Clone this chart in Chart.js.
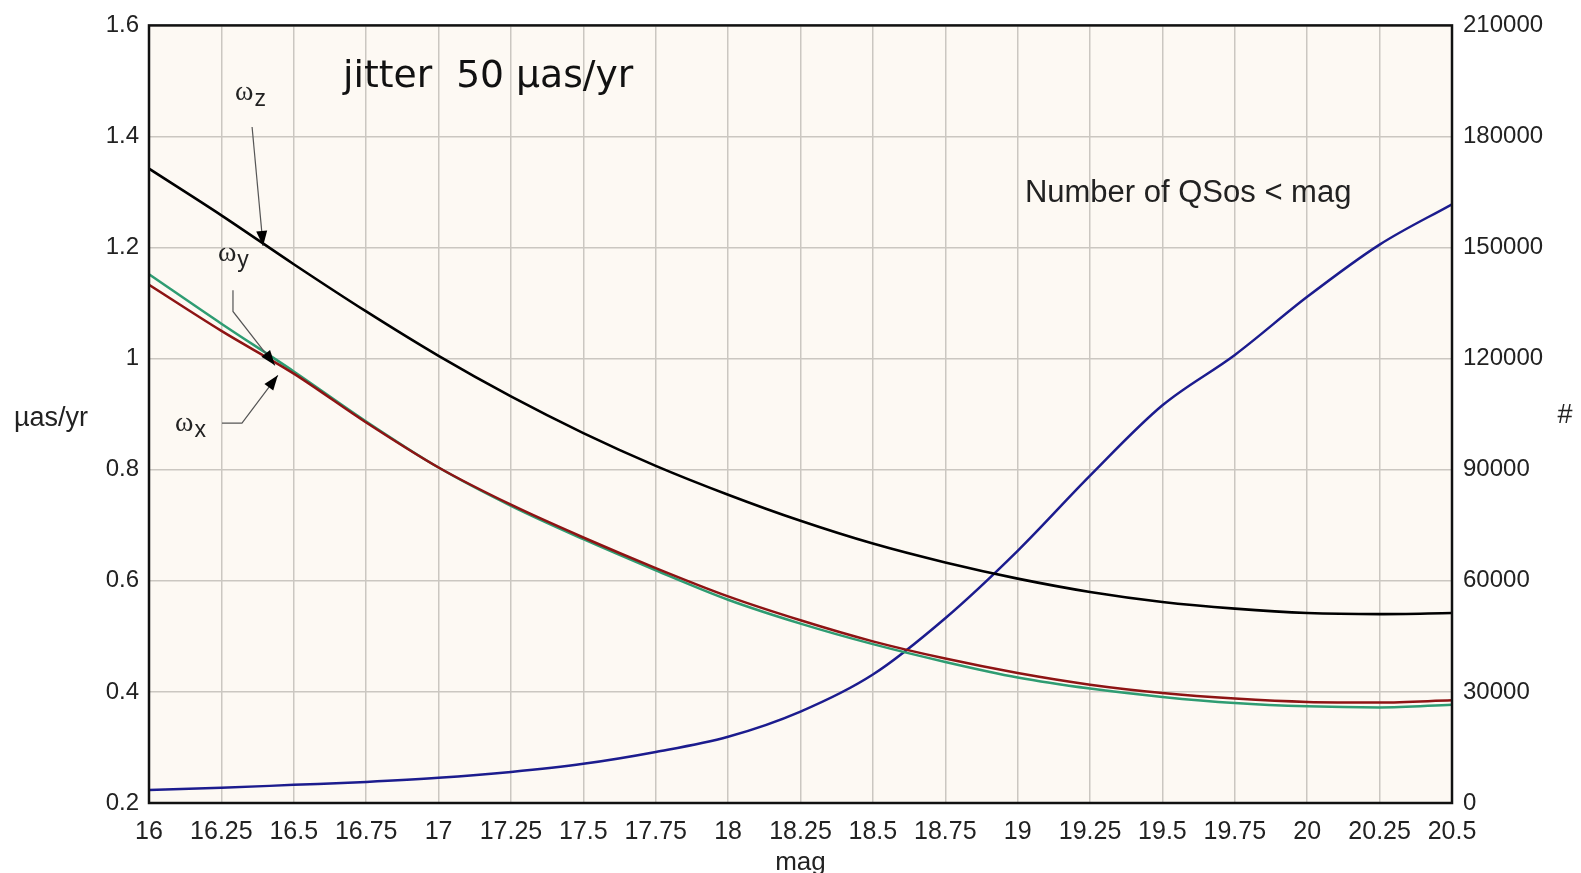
<!DOCTYPE html>
<html>
<head>
<meta charset="utf-8">
<script src="https://cdn.jsdelivr.net/npm/chart.js@4/dist/chart.umd.min.js"></script>
<style>
html,body{margin:0;padding:0;background:#fff;}
#wrap{width:1581px;height:873px;position:relative;}
</style>
</head>
<body>
<div id="wrap"><canvas id="c" width="1581" height="873"></canvas></div>
<script>
const mags = [16,16.25,16.5,16.75,17,17.25,17.5,17.75,18,18.25,18.5,18.75,19,19.25,19.5,19.75,20,20.25,20.5];
const omegaZ = [1.342,1.258,1.170,1.085,1.005,0.932,0.866,0.807,0.755,0.708,0.667,0.633,0.604,0.580,0.562,0.550,0.542,0.540,0.542];
const omegaY = [1.152,1.063,0.977,0.887,0.804,0.735,0.675,0.619,0.566,0.523,0.486,0.454,0.426,0.406,0.391,0.380,0.374,0.372,0.377];
const omegaX = [1.133,1.050,0.973,0.885,0.804,0.737,0.678,0.623,0.572,0.529,0.491,0.460,0.434,0.413,0.398,0.388,0.382,0.381,0.385];
const qsoCount = [3500,4100,4900,5700,6800,8400,10600,13800,17900,24700,34700,49900,68100,88400,107400,121000,136700,150800,161700];
const leftTicks = [0.2,0.4,0.6,0.8,1,1.2,1.4,1.6];
const rightTicks = [0,30000,60000,90000,120000,150000,180000,210000];

const pts = arr => mags.map((m,i)=>({x:m,y:arr[i]}));

const annotations = {
  id:'annot',
  beforeDraw(chart){
    const {ctx, chartArea:a} = chart;
    ctx.save();
    ctx.fillStyle = '#FDF9F3';
    ctx.fillRect(a.left, a.top, a.right-a.left, a.bottom-a.top);
    ctx.restore();
  },
  afterDraw(chart){
    const {ctx, chartArea:a, scales} = chart;
    const X = v=>scales.x.getPixelForValue(v), Y = v=>scales.y.getPixelForValue(v);
    ctx.save();
    // frame
    ctx.strokeStyle = '#111'; ctx.lineWidth = 2.5;
    ctx.strokeRect(a.left, a.top, a.right-a.left, a.bottom-a.top);
    // axis titles
    ctx.fillStyle = '#222';
    ctx.textBaseline = 'middle';
    ctx.font = '27px "Liberation Sans", Arial, sans-serif';
    ctx.textAlign = 'left';
    ctx.fillText('µas/yr', 14, (a.top+a.bottom)/2+4);
    ctx.textAlign = 'center';
    ctx.fillText('#', 1565, (a.top+a.bottom)/2+1);
    ctx.font = '26px "Liberation Sans", Arial, sans-serif';
    ctx.fillText('mag', (a.left+a.right)/2, 863);
    // in-plot texts
    ctx.textAlign = 'left';
    ctx.textBaseline = 'alphabetic';
    ctx.fillStyle = '#111';
    let base = 30;
    ctx.font = base+'px "DejaVu Sans", sans-serif';
    const jt = 'jitter  50 µas/yr';
    const w = ctx.measureText(jt).width;
    ctx.font = (base*290/w).toFixed(1)+'px "DejaVu Sans", sans-serif';
    ctx.fillText(jt, X(16.67), Y(1.489));
    ctx.textBaseline = 'middle';
    ctx.fillStyle = '#222';
    ctx.font = '31px "Liberation Sans", Arial, sans-serif';
    ctx.fillText('Number of QSos < mag', X(19.025), Y(1.297));
    // omega labels (left-anchored)
    const omega = (mx, vy, sub) => {
      ctx.fillStyle = '#222';
      ctx.textBaseline = 'middle';
      ctx.textAlign = 'left';
      ctx.font = '28px "Liberation Serif", "DejaVu Serif", serif';
      const x0 = X(mx), y0 = Y(vy);
      ctx.fillText('ω', x0, y0-2);
      const ww = ctx.measureText('ω').width;
      ctx.font = '23px "Liberation Sans", Arial, sans-serif';
      ctx.fillText(sub, x0+ww+1, y0+5);
    };
    omega(16.297, 1.476, 'z');
    omega(16.238, 1.185, 'y');
    omega(16.09, 0.880, 'x');
    // arrows
    const arrow = (path) => {
      const p = path.map(q=>[X(q[0]),Y(q[1])]);
      ctx.strokeStyle = '#555'; ctx.lineWidth = 1.2;
      ctx.beginPath();
      ctx.moveTo(p[0][0],p[0][1]);
      for (let i=1;i<p.length;i++) ctx.lineTo(p[i][0],p[i][1]);
      ctx.stroke();
      const t = p[p.length-1], s = p[p.length-2];
      const ang = Math.atan2(t[1]-s[1], t[0]-s[0]);
      const L = 15, H = 5.5;
      ctx.fillStyle = '#000';
      ctx.beginPath();
      ctx.moveTo(t[0],t[1]);
      ctx.lineTo(t[0]-L*Math.cos(ang)+H*Math.sin(ang), t[1]-L*Math.sin(ang)-H*Math.cos(ang));
      ctx.lineTo(t[0]-L*Math.cos(ang)-H*Math.sin(ang), t[1]-L*Math.sin(ang)+H*Math.cos(ang));
      ctx.closePath(); ctx.fill();
    };
    arrow([[16.356,1.417],[16.394,1.203]]);
    arrow([[16.29,1.123],[16.29,1.085],[16.435,0.988]]);
    arrow([[16.252,0.884],[16.321,0.884],[16.445,0.970]]);
    ctx.restore();
  }
};

const gridColor = '#CBC7C1';
const tickFont = (s)=>({family:'"Liberation Sans", Arial, sans-serif', size:s});

new Chart(document.getElementById('c'), {
  type:'line',
  data:{
    datasets:[
      {label:'ωz', data:pts(omegaZ), borderColor:'#000000', borderWidth:2.6, yAxisID:'y'},
      {label:'ωx', data:pts(omegaX), borderColor:'#8E1414', borderWidth:2.5, yAxisID:'y'},
      {label:'ωy', data:pts(omegaY), borderColor:'#2E9C72', borderWidth:2.5, yAxisID:'y'},
      {label:'QSOs', data:pts(qsoCount), borderColor:'#1C1C8E', borderWidth:2.5, yAxisID:'y1'}
    ]
  },
  options:{
    responsive:false,
    animation:false,
    events:[],
    layout:{padding:{top:17,bottom:0,left:0,right:0}, autoPadding:false},
    elements:{point:{radius:0}, line:{cubicInterpolationMode:'monotone', fill:false}},
    plugins:{legend:{display:false}, tooltip:{enabled:false}},
    scales:{
      x:{type:'linear', min:16, max:20.5,
        afterBuildTicks: s=>{ s.ticks = mags.map(v=>({value:v})); },
        afterFit: s=>{ s.height = 70; },
        grid:{color:gridColor, lineWidth:1.5, drawTicks:false},
        border:{display:false},
        ticks:{color:'#222', font:tickFont(25), padding:14, maxRotation:0, autoSkip:false,
          callback:v=>String(+v.toFixed(2))}
      },
      y:{type:'linear', position:'left', min:0.2, max:1.6,
        afterBuildTicks: s=>{ s.ticks = leftTicks.map(v=>({value:v})); },
        afterFit: s=>{ s.width = 149; },
        grid:{color:gridColor, lineWidth:1.5, drawTicks:false},
        border:{display:false},
        ticks:{color:'#222', font:tickFont(24), padding:10, callback:v=>String(+v.toFixed(1))}
      },
      y1:{type:'linear', position:'right', min:0, max:210000,
        afterBuildTicks: s=>{ s.ticks = rightTicks.map(v=>({value:v})); },
        afterFit: s=>{ s.width = 129; },
        grid:{display:false, drawTicks:false},
        border:{display:false},
        ticks:{color:'#222', font:tickFont(24), padding:11, callback:v=>String(v)}
      }
    }
  },
  plugins:[annotations]
});
</script>
</body>
</html>
